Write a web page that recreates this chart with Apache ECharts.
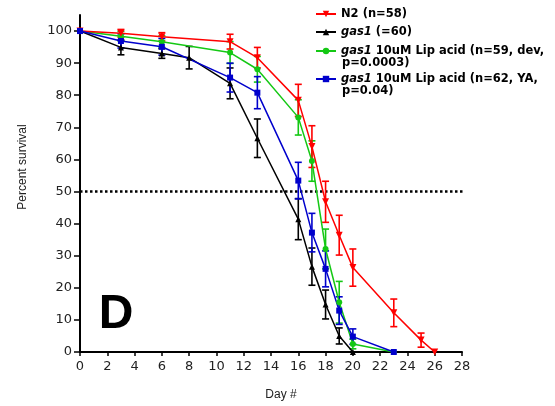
<!DOCTYPE html>
<html>
<head>
<meta charset="utf-8">
<script src="https://cdn.jsdelivr.net/npm/echarts@6/dist/echarts.min.js"></script>
<style>html,body{margin:0;padding:0;background:#fff}#c{width:555px;height:406px}</style>
</head>
<body>
<div id="c"></div>
<script>
// ---- data ----
var xTicks = [0,2,4,6,8,10,12,14,16,18,20,22,24,26,28];
var yTicks = [0,10,20,30,40,50,60,70,80,90,100];

var n2Days = [0,3,6,11,13,16,17,18,19,20,23,25,26];
var n2Vals = [100,99.3,98.2,96.7,91.7,78.4,64.0,46.8,36.4,26.3,12.2,3.7,0];
var n2Err  = [0,1.2,1.3,2.3,3.2,5.0,6.5,6.4,6.2,5.8,4.3,2.2,0];

var gasDays = [0,3,6,8,11,13,16,17,18,19,20];
var gasVals = [100,94.9,93.0,91.7,83.7,66.6,41.4,26.6,14.8,5.0,0];
var gasErr  = [0,2.3,1.5,3.5,4.8,6.0,6.4,5.8,4.5,2.5,0];

var devDays = [0,3,6,11,13,16,17,18,19,20,23];
var devVals = [100,98.4,96.7,93.3,88.1,73.1,59.5,32.1,15.5,2.5,0];
var devErr  = [0,1.5,1.8,3.4,4.0,5.5,6.3,6.2,6.5,1.5,0];

var yaDays = [0,3,6,11,13,16,17,18,19,20,23];
var yaVals = [100,96.9,95.1,85.5,80.8,53.4,37.2,25.9,12.9,4.8,0];
var yaErr  = [0,2.2,2.6,4.5,5.0,5.7,6.0,5.6,4.3,2.4,0];

var refDays = [0, 28.4];
var refVals = [50, 50];

var names = ['N2 (n=58)', 'gas1 (=60)', 'gas1 10uM Lip acid (n=59, dev,', 'gas1 10uM Lip acid (n=62, YA,'];
var legendLabels = ['N2 (n=58)', '{i|gas1} (=60)', '{i|gas1} 10uM Lip acid (n=59, dev,', '{i|gas1} 10uM Lip acid (n=62, YA,'];
var secondLines = ['p=0.0003)', 'p=0.04)'];
// ----------------

var colors = ['#ff0000', '#000000', '#14c814', '#0000cc'];
var sets = [
  {d:n2Days, v:n2Vals, e:n2Err, sym:'triangle', rot:180, size:7},
  {d:gasDays, v:gasVals, e:gasErr, sym:'triangle', rot:0, size:6},
  {d:devDays, v:devVals, e:devErr, sym:'circle', rot:0, size:6},
  {d:yaDays, v:yaVals, e:yaErr, sym:'rect', rot:0, size:6}
];

function pairs(a,b){ return a.map(function(x,i){ return [x,b[i]]; }); }

var series = [];
series.push({
  type:'line', name:'ref', data: pairs(refDays, refVals), silent:true, symbol:'none', clip:false, z:1,
  lineStyle:{color:'#000', type:[2.5,2.5], width:2.5}, animation:false
});
var order = [2,1,0,3];
order.forEach(function(k){
  var s = sets[k];
  series.push({
    type:'custom', name: names[k] + ' err', silent:true, z:2,
    data: s.d.map(function(x,i){ return [x, s.v[i]-s.e[i], s.v[i]+s.e[i]]; }).filter(function(r){return r[2]-r[1]>0.01;}),
    renderItem: function(params, api){
      var lo = api.coord([api.value(0), api.value(1)]);
      var hi = api.coord([api.value(0), api.value(2)]);
      var w = 3.5;
      var st = {stroke: colors[k], lineWidth: 1.6};
      return {type:'group', children:[
        {type:'line', shape:{x1:lo[0],y1:lo[1],x2:hi[0],y2:hi[1]}, style:st},
        {type:'line', shape:{x1:lo[0]-w,y1:lo[1],x2:lo[0]+w,y2:lo[1]}, style:st},
        {type:'line', shape:{x1:hi[0]-w,y1:hi[1],x2:hi[0]+w,y2:hi[1]}, style:st}
      ]};
    }
  });
  series.push({
    type:'line', name: names[k], data: pairs(s.d, s.v), z:3,
    symbol: s.sym, symbolRotate: s.rot, symbolSize: s.size, showAllSymbol:true,
    itemStyle:{color: colors[k]}, lineStyle:{color: colors[k], width:1.5},
    clip:false, animation:false
  });
});

var legendTops = [7, 25, 44, 72];
var legends = names.map(function(n,i){
  return {
    data:[n], orient:'vertical', left:315, top:legendTops[i], padding:0,
    itemWidth:20, itemHeight:8, itemGap:0,
    formatter: function(){ return legendLabels[i]; },
    textStyle:{fontFamily:'DejaVu Sans', fontWeight:'bold', fontSize:11.5, color:'#000', lineHeight:14,
      rich:{i:{fontFamily:'DejaVu Sans', fontWeight:'bold', fontStyle:'italic', fontSize:11.5, color:'#000', lineHeight:14}}},
    selectedMode:false
  };
});

var chart = echarts.init(document.getElementById('c'), null, {renderer:'canvas'});
chart.setOption({
  animation:false,
  backgroundColor:'#fff',
  grid:{left:80, right:93, top:15, bottom:54, containLabel:false},
  xAxis:{type:'value', min:0, max:28, interval:2,
    axisLine:{show:true, onZero:false, lineStyle:{color:'#000', width:2}},
    axisTick:{show:true, length:4, lineStyle:{color:'#000', width:1.5}},
    axisLabel:{fontFamily:'DejaVu Sans', fontSize:13, color:'#222', margin:8,
      customValues: xTicks},
    splitLine:{show:false}},
  yAxis:{type:'value', min:0, max:105,
    axisLine:{show:true, onZero:false, lineStyle:{color:'#000', width:2}},
    axisTick:{show:true, length:6, lineStyle:{color:'#000', width:1.5}, customValues: yTicks},
    axisLabel:{fontFamily:'DejaVu Sans', fontSize:13, color:'#222', margin:8, customValues: yTicks},
    splitLine:{show:false}},
  legend: legends,
  graphic:[
    {type:'text', left:342, top:57, style:{text:secondLines[0], font:'bold 11.5px "DejaVu Sans"', fill:'#000'}},
    {type:'text', left:342, top:85, style:{text:secondLines[1], font:'bold 11.5px "DejaVu Sans"', fill:'#000'}},
    {type:'text', x:23, y:167, rotation:Math.PI/2, style:{text:'Percent survival', font:'12px "Liberation Sans"', fill:'#222', align:'center', verticalAlign:'middle'}},
    {type:'text', x:281, y:395, style:{text:'Day #', font:'12px "Liberation Sans"', fill:'#222', align:'center', verticalAlign:'middle'}},
    {type:'text', x:116, y:315, style:{text:'D', font:'bold 48px "Liberation Sans"', fill:'#000', align:'center', verticalAlign:'middle'}}
  ],
  series: series
});
</script>
</body>
</html>
